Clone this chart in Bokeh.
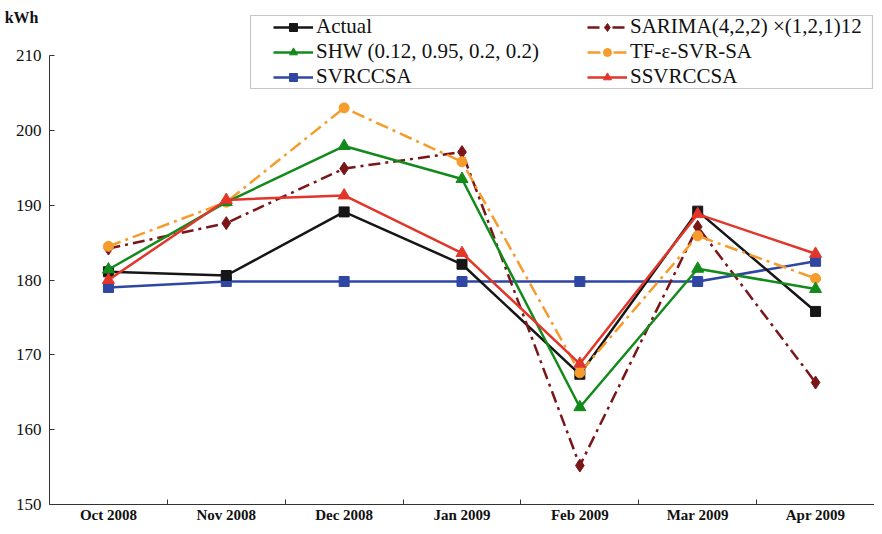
from bokeh.plotting import figure
from bokeh.models import (FixedTicker, Legend, LegendItem, Range1d, LinearAxis, BoxAnnotation)
from bokeh.embed import file_html
from bokeh.resources import INLINE

months = ["Oct 2008", "Nov 2008", "Dec 2008", "Jan 2009", "Feb 2009", "Mar 2009", "Apr 2009"]
actual = [181.1, 180.6, 189.1, 182.1, 167.4, 189.2, 175.8]
sarima = [184.2, 187.6, 194.9, 197.1, 155.2, 187.1, 166.3]
shw = [181.4, 190.4, 197.9, 193.5, 163.0, 181.5, 178.8]
tfsvr = [184.5, 190.4, 203.0, 195.8, 167.6, 185.9, 180.2]
svrccsa = [179.0, 179.8, 179.8, 179.8, 179.8, 179.8, 182.5]
ssvrccsa = [180.0, 190.7, 191.3, 183.6, 168.8, 188.8, 183.5]
y_ticks = [150, 160, 170, 180, 190, 200, 210]
unit_label = "kWh"

xs = [i + 0.5 for i in range(len(months))]
FONT = "Liberation Serif"

# layout (pixels)
W, H = 874, 526
LEFT, TOP, BOT_BORDER = 49, 12, 22
BOTTOM = H - BOT_BORDER
Y210 = 55
frac = (Y210 - TOP) / (BOTTOM - TOP)
y_span = y_ticks[-1] - y_ticks[0]
y_end = y_ticks[-1] + y_span * frac / (1 - frac)
px_unit = (BOTTOM - TOP) / (y_end - y_ticks[0])
kwh_pos = y_end - (17 - TOP) / px_unit

p = figure(width=W, height=H, output_backend="svg", toolbar_location=None,
           x_range=Range1d(0, len(months)), y_range=Range1d(y_ticks[0], y_end),
           min_border_left=LEFT, min_border_right=0, min_border_top=TOP,
           min_border_bottom=BOT_BORDER)
p.outline_line_color = None
p.xgrid.visible = False
p.ygrid.visible = False
p.background_fill_color = "white"

# x axis: labels at centres, small ticks at boundaries
p.xaxis.ticker = FixedTicker(ticks=xs, minor_ticks=list(range(1, len(months))))
p.xaxis.major_label_overrides = {x: m for x, m in zip(xs, months)}
p.xaxis.major_tick_in = 0
p.xaxis.major_tick_out = 0
p.xaxis.minor_tick_in = 5
p.xaxis.minor_tick_out = 0
p.xaxis.minor_tick_line_color = "#333333"
p.xaxis.major_label_text_font = FONT
p.xaxis.major_label_text_font_style = "bold"
p.xaxis.major_label_text_font_size = "15px"
p.xaxis.major_label_text_color = "#111111"
p.xaxis.major_label_standoff = 2
p.xaxis.axis_line_color = "#333333"

p.yaxis.ticker = FixedTicker(ticks=y_ticks, minor_ticks=[])
p.yaxis.bounds = (y_ticks[0], y_ticks[-1])
p.yaxis.major_tick_in = 5
p.yaxis.major_tick_out = 0
p.yaxis.major_tick_line_color = "#333333"
p.yaxis.axis_line_color = "#333333"
p.yaxis.major_label_text_font = FONT
p.yaxis.major_label_text_font_size = "17px"
p.yaxis.major_label_text_color = "#111111"
p.yaxis.major_label_standoff = 8

# unit label "kWh" via an extra left axis
unit_axis = LinearAxis(ticker=FixedTicker(ticks=[kwh_pos], minor_ticks=[]),
                       major_label_overrides={kwh_pos: unit_label},
                       axis_line_color=None, major_tick_line_color=None,
                       minor_tick_line_color=None,
                       major_label_text_font=FONT, major_label_text_font_style="bold",
                       major_label_text_font_size="16px", major_label_text_color="#111111",
                       major_label_standoff=-32)
p.add_layout(unit_axis, "left")

series = [
    ("Actual", actual, "#161616", "solid", "square", 10),
    ("SARIMA(4,2,2) \u00d7(1,2,1)12", sarima, "#7a1518", "12 5 3 5", "diamond", 13),
    ("SHW (0.12, 0.95, 0.2, 0.2)", shw, "#138a1c", "solid", "triangle", 12),
    ("TF-\u03b5-SVR-SA", tfsvr, "#f59c2c", "13 5 3 5", "circle", 10),
    ("SVRCCSA", svrccsa, "#2f47a3", "solid", "square", 10),
    ("SSVRCCSA", ssvrccsa, "#e2362a", "solid", "triangle", 12),
]

draw_order = [4, 0, 1, 3, 2, 5]
items = {}
for idx in draw_order:
    name, vals, col, dash, marker, size = series[idx]
    ln = p.line(xs, vals, line_color=col, line_width=2.5, line_dash=dash)
    sc = p.scatter(xs, vals, marker=marker, size=size, fill_color=col, line_color=col)
    items[idx] = LegendItem(label=name, renderers=[ln, sc])

# legend frame
p.add_layout(BoxAnnotation(left=250 - LEFT, right=872 - LEFT,
                           top=BOTTOM - 15, bottom=BOTTOM - 88,
                           left_units="screen", right_units="screen",
                           top_units="screen", bottom_units="screen",
                           fill_color="white", fill_alpha=1.0,
                           line_color="#444444", line_width=1.2))

leg_kw = dict(label_text_font=FONT, label_text_font_size="21px",
              label_text_color="#111111", glyph_width=40, glyph_height=20,
              label_standoff=3, label_height=23, spacing=0, padding=0, margin=0,
              border_line_color=None, background_fill_alpha=0.0)
col1 = Legend(items=[items[i] for i in [0, 2, 4]], location=(273 - LEFT, BOTTOM - 89), **leg_kw)
col2 = Legend(items=[items[i] for i in [1, 3, 5]], location=(587 - LEFT, BOTTOM - 89), **leg_kw)
p.add_layout(col1, "center")
p.add_layout(col2, "center")

open("out.html", "w").write(file_html(p, INLINE))
